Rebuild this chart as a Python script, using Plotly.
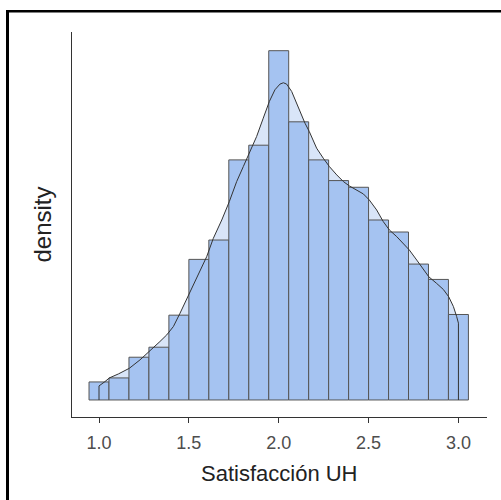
import plotly.graph_objects as go

# Histogram (density scale), 19 bins of width 2/18 centred on 1.0 ... 3.0
bin_width = 0.1111
bin_centers = [1.0, 1.1111, 1.2222, 1.3333, 1.4444, 1.5556, 1.6667, 1.7778, 1.8889,
               2.0, 2.1111, 2.2222, 2.3333, 2.4444, 2.5556, 2.6667, 2.7778, 2.8889, 3.0]
bin_density = [0.054, 0.066, 0.128, 0.158, 0.254, 0.421, 0.479, 0.719, 0.763,
               1.046, 0.833, 0.719, 0.657, 0.637, 0.539, 0.503, 0.407, 0.361, 0.256]

# Kernel density curve
kde_x = [1.000, 1.033, 1.0575, 1.108, 1.169, 1.228, 1.280, 1.339, 1.377, 1.414, 1.451,
         1.503, 1.553, 1.599, 1.636, 1.683, 1.725, 1.766, 1.803, 1.837, 1.877, 1.914,
         1.948, 1.979, 2.007, 2.026, 2.044, 2.072, 2.109, 2.146, 2.170, 2.211, 2.248,
         2.282, 2.323, 2.360, 2.393, 2.434, 2.471, 2.504, 2.545, 2.582, 2.616, 2.657,
         2.694, 2.727, 2.768, 2.805, 2.835, 2.879, 2.916, 2.946, 2.972, 2.990, 3.000]
kde_y = [0.042, 0.055, 0.066, 0.078, 0.095, 0.120, 0.145, 0.175, 0.195, 0.220, 0.260,
         0.319, 0.379, 0.429, 0.484, 0.539, 0.594, 0.654, 0.699, 0.739, 0.789, 0.844,
         0.894, 0.929, 0.946, 0.950, 0.946, 0.924, 0.874, 0.829, 0.804, 0.754, 0.724,
         0.699, 0.674, 0.654, 0.641, 0.629, 0.617, 0.599, 0.569, 0.534, 0.509, 0.489,
         0.469, 0.449, 0.419, 0.391, 0.369, 0.349, 0.331, 0.309, 0.280, 0.250, 0.230]

tick_vals = [1.0, 1.5, 2.0, 2.5, 3.0]
tick_text = ["1.0", "1.5", "2.0", "2.5", "3.0"]

x_title = "Satisfacción UH"
y_title = "density"

BAR_FILL = "#A5C3F1"
KDE_FILL = "#D9E5F8"
OUTLINE = "#555555"
FONT = "Arial, Liberation Sans, sans-serif"

X_RANGE = [0.8497, 3.159]
Y_RANGE = [-0.051, 1.102]

fig = go.Figure()

# density area on the base subplot (drawn underneath)
fig.add_trace(go.Scatter(
    x=kde_x, y=kde_y, mode="lines", fill="tozeroy", fillcolor=KDE_FILL,
    line=dict(width=0), hoverinfo="skip", showlegend=False,
    xaxis="x", yaxis="y"))

# histogram bars on the overlay subplot (drawn above the density area)
fig.add_trace(go.Bar(
    x=bin_centers, y=bin_density, width=[bin_width] * len(bin_centers),
    marker=dict(color=BAR_FILL, line=dict(color=OUTLINE, width=1)),
    showlegend=False, xaxis="x2", yaxis="y2"))

# density outline with vertical ends, on top
fig.add_trace(go.Scatter(
    x=[kde_x[0]] + kde_x + [kde_x[-1]],
    y=[0] + kde_y + [0],
    mode="lines", line=dict(color="#333333", width=1),
    hoverinfo="skip", showlegend=False, xaxis="x2", yaxis="y2"))

L, R, T, B = 72, 14, 32, 83
W, H = 501, 500
pw, ph = W - L - R, H - T - B

def px_x(p):
    return (p - L) / pw

def px_y(p):
    return (H - B - p) / ph

fig.update_layout(
    width=W, height=H,
    margin=dict(l=L, r=R, t=T, b=B, pad=0),
    paper_bgcolor="white", plot_bgcolor="white",
    bargap=0,
    font=dict(family=FONT),
    xaxis=dict(
        range=X_RANGE, showgrid=False, zeroline=False,
        showline=True, linecolor="#333333", linewidth=1,
        ticks="outside", ticklen=5, tickwidth=1, tickcolor="#333333",
        tickvals=tick_vals, ticktext=tick_text, ticklabelstandoff=4,
        tickfont=dict(size=18, color="#4D4D4D", family=FONT),
    ),
    yaxis=dict(
        range=Y_RANGE, showgrid=False, zeroline=False,
        showline=True, linecolor="#333333", linewidth=1,
        ticks="", showticklabels=False,
    ),
    xaxis2=dict(range=X_RANGE, overlaying="x", visible=False),
    yaxis2=dict(range=Y_RANGE, overlaying="y", visible=False),
    annotations=[
        dict(text=x_title, xref="paper", yref="paper", x=0.5, y=px_y(473),
             xanchor="center", yanchor="middle", showarrow=False,
             font=dict(size=22, color="#222222", family=FONT)),
        dict(text=y_title, xref="paper", yref="paper", x=px_x(42), y=0.5,
             xanchor="center", yanchor="middle", showarrow=False, textangle=-90,
             font=dict(size=24, color="#222222", family=FONT)),
    ],
    shapes=[
        dict(type="line", xref="paper", yref="paper",
             x0=px_x(7.5), x1=px_x(7.5), y0=px_y(520), y1=px_y(11.3),
             line=dict(color="black", width=3)),
        dict(type="line", xref="paper", yref="paper",
             x0=px_x(6), x1=px_x(520), y0=px_y(11.3), y1=px_y(11.3),
             line=dict(color="black", width=2.5)),
    ],
)

fig.write_html("out.html",
               config={"displayModeBar": False, "staticPlot": True},
               post_script="document.body.style.margin='0px';document.body.style.overflow='hidden';")
